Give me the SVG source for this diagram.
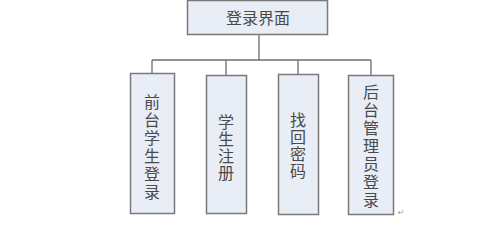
<svg xmlns="http://www.w3.org/2000/svg" width="499" height="229" viewBox="0 0 499 229">
<style>
.box{fill:#e8edf6;stroke:#7a7a7a;stroke-width:1.5}
.lbl{font-family:"Noto Sans CJK SC","Noto Sans",sans-serif;font-size:16px;fill:#4a4a4a;text-anchor:middle}
.vl{writing-mode:vertical-rl;letter-spacing:2px}
.conn{stroke:#6e6e6e;stroke-width:1.3;fill:none}
</style>
<rect width="499" height="229" fill="#ffffff"/>
<g id="connectors">
<path class="conn" d="M259,34 V60 M152,60 H371 M152,60 V74 M226,60 V75 M298,60 V74 M371,60 V75"/>
</g>
<g id="login">
<rect class="box" x="187.5" y="0.5" width="140" height="34"/>
<text class="lbl" x="258" y="24" font-size="17">登录界面</text>
</g>
<g id="front">
<rect class="box" x="130.5" y="73.5" width="44" height="140"/>
<text class="lbl vl" x="152" y="148">前台学生登录</text>
</g>
<g id="register">
<rect class="box" x="206.5" y="75.5" width="40" height="138"/>
<text class="lbl vl" x="226" y="148" style="letter-spacing:1px">学生注册</text>
</g>
<g id="findpwd">
<rect class="box" x="278.5" y="74.5" width="40" height="140"/>
<text class="lbl vl" x="298" y="146" style="letter-spacing:1px">找回密码</text>
</g>
<g id="admin">
<rect class="box" x="348.5" y="75.5" width="45" height="139"/>
<text class="lbl vl" x="371" y="147">后台管理员登录</text>
</g>
<text x="398" y="215" font-family="DejaVu Sans,sans-serif" font-size="8" fill="#999999">↵</text>
</svg>
